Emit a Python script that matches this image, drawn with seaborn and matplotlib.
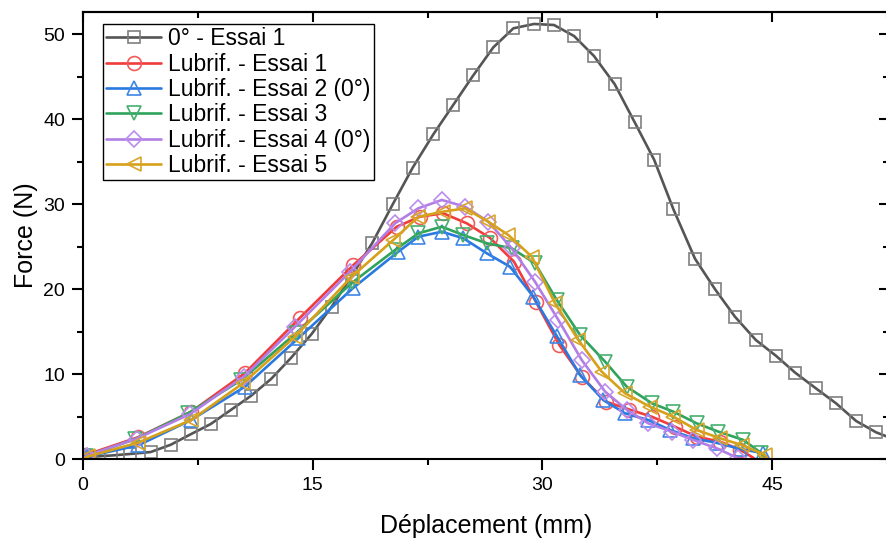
import matplotlib
matplotlib.use("Agg")
import matplotlib.pyplot as plt
import seaborn as sns
import pandas as pd
from matplotlib.ticker import MultipleLocator

# ── DATA ──────────────────────────────────────────────────────
# first point (0, 0) starts each line and carries no marker
ref_x = [0.0, 0.54, 1.83, 3.05, 4.42, 5.73, 7.03, 8.34, 9.65, 10.96, 12.28, 13.58,
         14.93, 16.24, 17.56, 18.89, 20.23, 21.53, 22.88, 24.19, 25.49, 26.80,
         28.11, 29.46, 30.76, 32.07, 33.37, 34.73, 36.03, 37.30, 38.56, 39.97,
         41.28, 42.58, 43.94, 45.25, 46.51, 47.86, 49.18, 50.49, 51.80, 52.64]
ref_y = [0.0, 0.27, 0.41, 0.59, 0.82, 1.68, 2.91, 4.12, 5.77, 7.42, 9.42, 11.9,
         14.72, 17.94, 21.6, 25.44, 30.0, 34.31, 38.24, 41.73, 45.19, 48.49,
         50.73, 51.24, 51.12, 49.82, 47.47, 44.13, 39.66, 35.25, 29.41, 23.59,
         19.99, 16.76, 14.02, 12.17, 10.17, 8.33, 6.56, 4.48, 3.14, 2.55]

lub1_x = [0, 0.22, 3.59, 7.07, 10.56, 14.17, 17.66, 20.49, 22.01, 23.53, 25.06, 26.58,
          28.15, 29.58, 31.11, 32.57, 34.16, 35.68, 37.15, 38.67, 40.08, 41.61, 42.91, 43.9]
lub1_y = [0, 0.5, 2.56, 5.57, 10.09, 16.64, 22.85, 27.36, 28.54, 28.94, 27.76, 26.04,
          23.24, 18.5, 13.43, 9.69, 6.75, 5.83, 4.98, 3.80, 2.63, 2.04, 1.1, 0]

lub2_x = [0, 0.3, 3.59, 7.07, 10.56, 14.06, 17.62, 20.59, 21.90, 23.43, 24.84, 26.37,
          27.89, 29.41, 30.94, 32.46, 33.98, 35.40, 36.92, 38.34, 39.86, 41.39, 42.9, 44.44, 44.6]
lub2_y = [0, 0.3, 1.6, 4.6, 8.5, 14.22, 20.11, 24.42, 26.18, 26.77, 26.0, 24.23,
          22.65, 19.12, 14.49, 9.89, 6.95, 5.38, 4.59, 3.42, 2.44, 1.9, 1.2, 0.67, 0]

lub3_x = [0, 0.2, 3.38, 6.86, 10.34, 13.9, 17.6, 20.38, 21.90, 23.43, 24.84, 26.37,
          28.0, 29.52, 30.94, 32.46, 34.10, 35.51, 37.15, 38.56, 40.08, 41.50, 43.13, 44.3, 44.45]
lub3_y = [0, 0.35, 2.32, 5.38, 9.31, 14.8, 20.8, 24.62, 26.58, 27.36, 26.38, 25.41,
          24.82, 23.05, 18.73, 14.61, 11.46, 8.52, 6.56, 5.57, 4.20, 3.22, 2.24, 0.7, 0]

lub4_x = [0, 0.25, 3.5, 7.0, 10.5, 13.85, 17.44, 20.38, 21.90, 23.43, 24.95, 26.47,
          28.0, 29.52, 31.05, 32.57, 34.10, 35.51, 36.92, 38.45, 39.86, 41.39, 42.80, 43.0]
lub4_y = [0, 0.4, 2.4, 5.3, 9.7, 15.58, 22.06, 27.76, 29.53, 30.51, 29.72, 27.95,
          24.82, 20.88, 16.37, 11.66, 7.93, 5.8, 4.20, 3.22, 2.24, 1.26, 0.08, 0]

lub5_x = [0, 0.33, 3.59, 7.07, 10.45, 13.85, 17.55, 20.27, 21.90, 23.53, 24.95, 26.47,
          27.78, 29.31, 30.83, 32.35, 33.88, 35.40, 37.03, 38.56, 40.08, 41.61, 43.02, 44.55, 44.7]
lub5_y = [0, 0.3, 1.92, 4.59, 8.92, 14.41, 21.47, 25.80, 28.54, 29.13, 29.53, 27.95,
          26.38, 23.83, 18.34, 14.02, 10.28, 7.74, 6.16, 4.98, 3.42, 2.44, 1.65, 0.47, 0]

labels = ["0° - Essai 1", "Lubrif. - Essai 1", "Lubrif. - Essai 2 (0°)",
          "Lubrif. - Essai 3", "Lubrif. - Essai 4 (0°)", "Lubrif. - Essai 5"]

# ── STYLE ─────────────────────────────────────────────────────
sns.set_theme(style="ticks")
plt.rcParams["font.family"] = ["Liberation Sans", "DejaVu Sans"]
plt.rcParams["axes.edgecolor"] = "black"
plt.rcParams["text.color"] = "black"
plt.rcParams["axes.labelcolor"] = "black"
plt.rcParams["xtick.color"] = "black"
plt.rcParams["ytick.color"] = "black"

series = [
    (ref_x, ref_y, "s", "#555555", "#7f7f7f", 9.0),
    (lub1_x, lub1_y, "o", "#f03c3c", "#f25a5a", 10.0),
    (lub2_x, lub2_y, "^", "#2979e0", "#3d86e6", 10.0),
    (lub3_x, lub3_y, "v", "#2fa35c", "#45b06e", 10.0),
    (lub4_x, lub4_y, "D", "#b27ee6", "#bb8cec", 8.0),
    (lub5_x, lub5_y, "<", "#d6a11a", "#d9a52a", 10.0),
]

fig = plt.figure(figsize=(8.87, 5.38), dpi=100)
ax = fig.add_axes([83 / 887, 79 / 538, 806 / 887, 447 / 538])

for (xs, ys, mk, lc, mc, ms), lab in zip(series, labels):
    df = pd.DataFrame({"x": xs, "y": ys})
    n = len(xs)
    sns.lineplot(data=df, x="x", y="y", ax=ax, sort=False, estimator=None,
                 color=lc, linewidth=1.9, marker=mk, markersize=ms,
                 mfc="none", mec=mc, mew=1.2, markevery=list(range(1, n - 1)),
                 label=lab)

ax.set_xlim(0, 52.64)
ax.set_ylim(0, 52.65)
ax.xaxis.set_major_locator(MultipleLocator(15))
ax.xaxis.set_minor_locator(MultipleLocator(7.5))
ax.yaxis.set_major_locator(MultipleLocator(10))
ax.yaxis.set_minor_locator(MultipleLocator(5))
ax.tick_params(which="major", direction="out", length=8, width=1.5, labelsize=14, pad=5)
ax.tick_params(which="minor", direction="out", length=4.5, width=1.5)
for sp in ax.spines.values():
    sp.set_linewidth(1.5)

# top / right axes: ticks pointing inward, no labels
top = ax.secondary_xaxis("top")
top.xaxis.set_major_locator(MultipleLocator(15))
top.xaxis.set_minor_locator(MultipleLocator(7.5))
top.tick_params(which="major", direction="in", length=7, width=1.5, labeltop=False)
top.tick_params(which="minor", direction="in", length=4, width=1.5)
top.spines["top"].set_linewidth(1.5)
right = ax.secondary_yaxis("right")
right.yaxis.set_major_locator(MultipleLocator(10))
right.yaxis.set_minor_locator(MultipleLocator(5))
right.tick_params(which="major", direction="in", length=7, width=1.5, labelright=False)
right.tick_params(which="minor", direction="in", length=4, width=1.5)

ax.set_xlabel("Déplacement (mm)", fontsize=18, labelpad=14)
ax.set_ylabel("Force (N)", fontsize=18, labelpad=4)

leg = ax.legend(loc="upper left", bbox_to_anchor=(20 / 806, 435 / 447), borderaxespad=0,
                fontsize=16.5, frameon=True, fancybox=False, edgecolor="black",
                framealpha=1, labelspacing=0.1, handlelength=2.4, handletextpad=0.3,
                borderpad=0.15)
leg.get_frame().set_linewidth(1.0)

plt.savefig("out.png", dpi=100)
